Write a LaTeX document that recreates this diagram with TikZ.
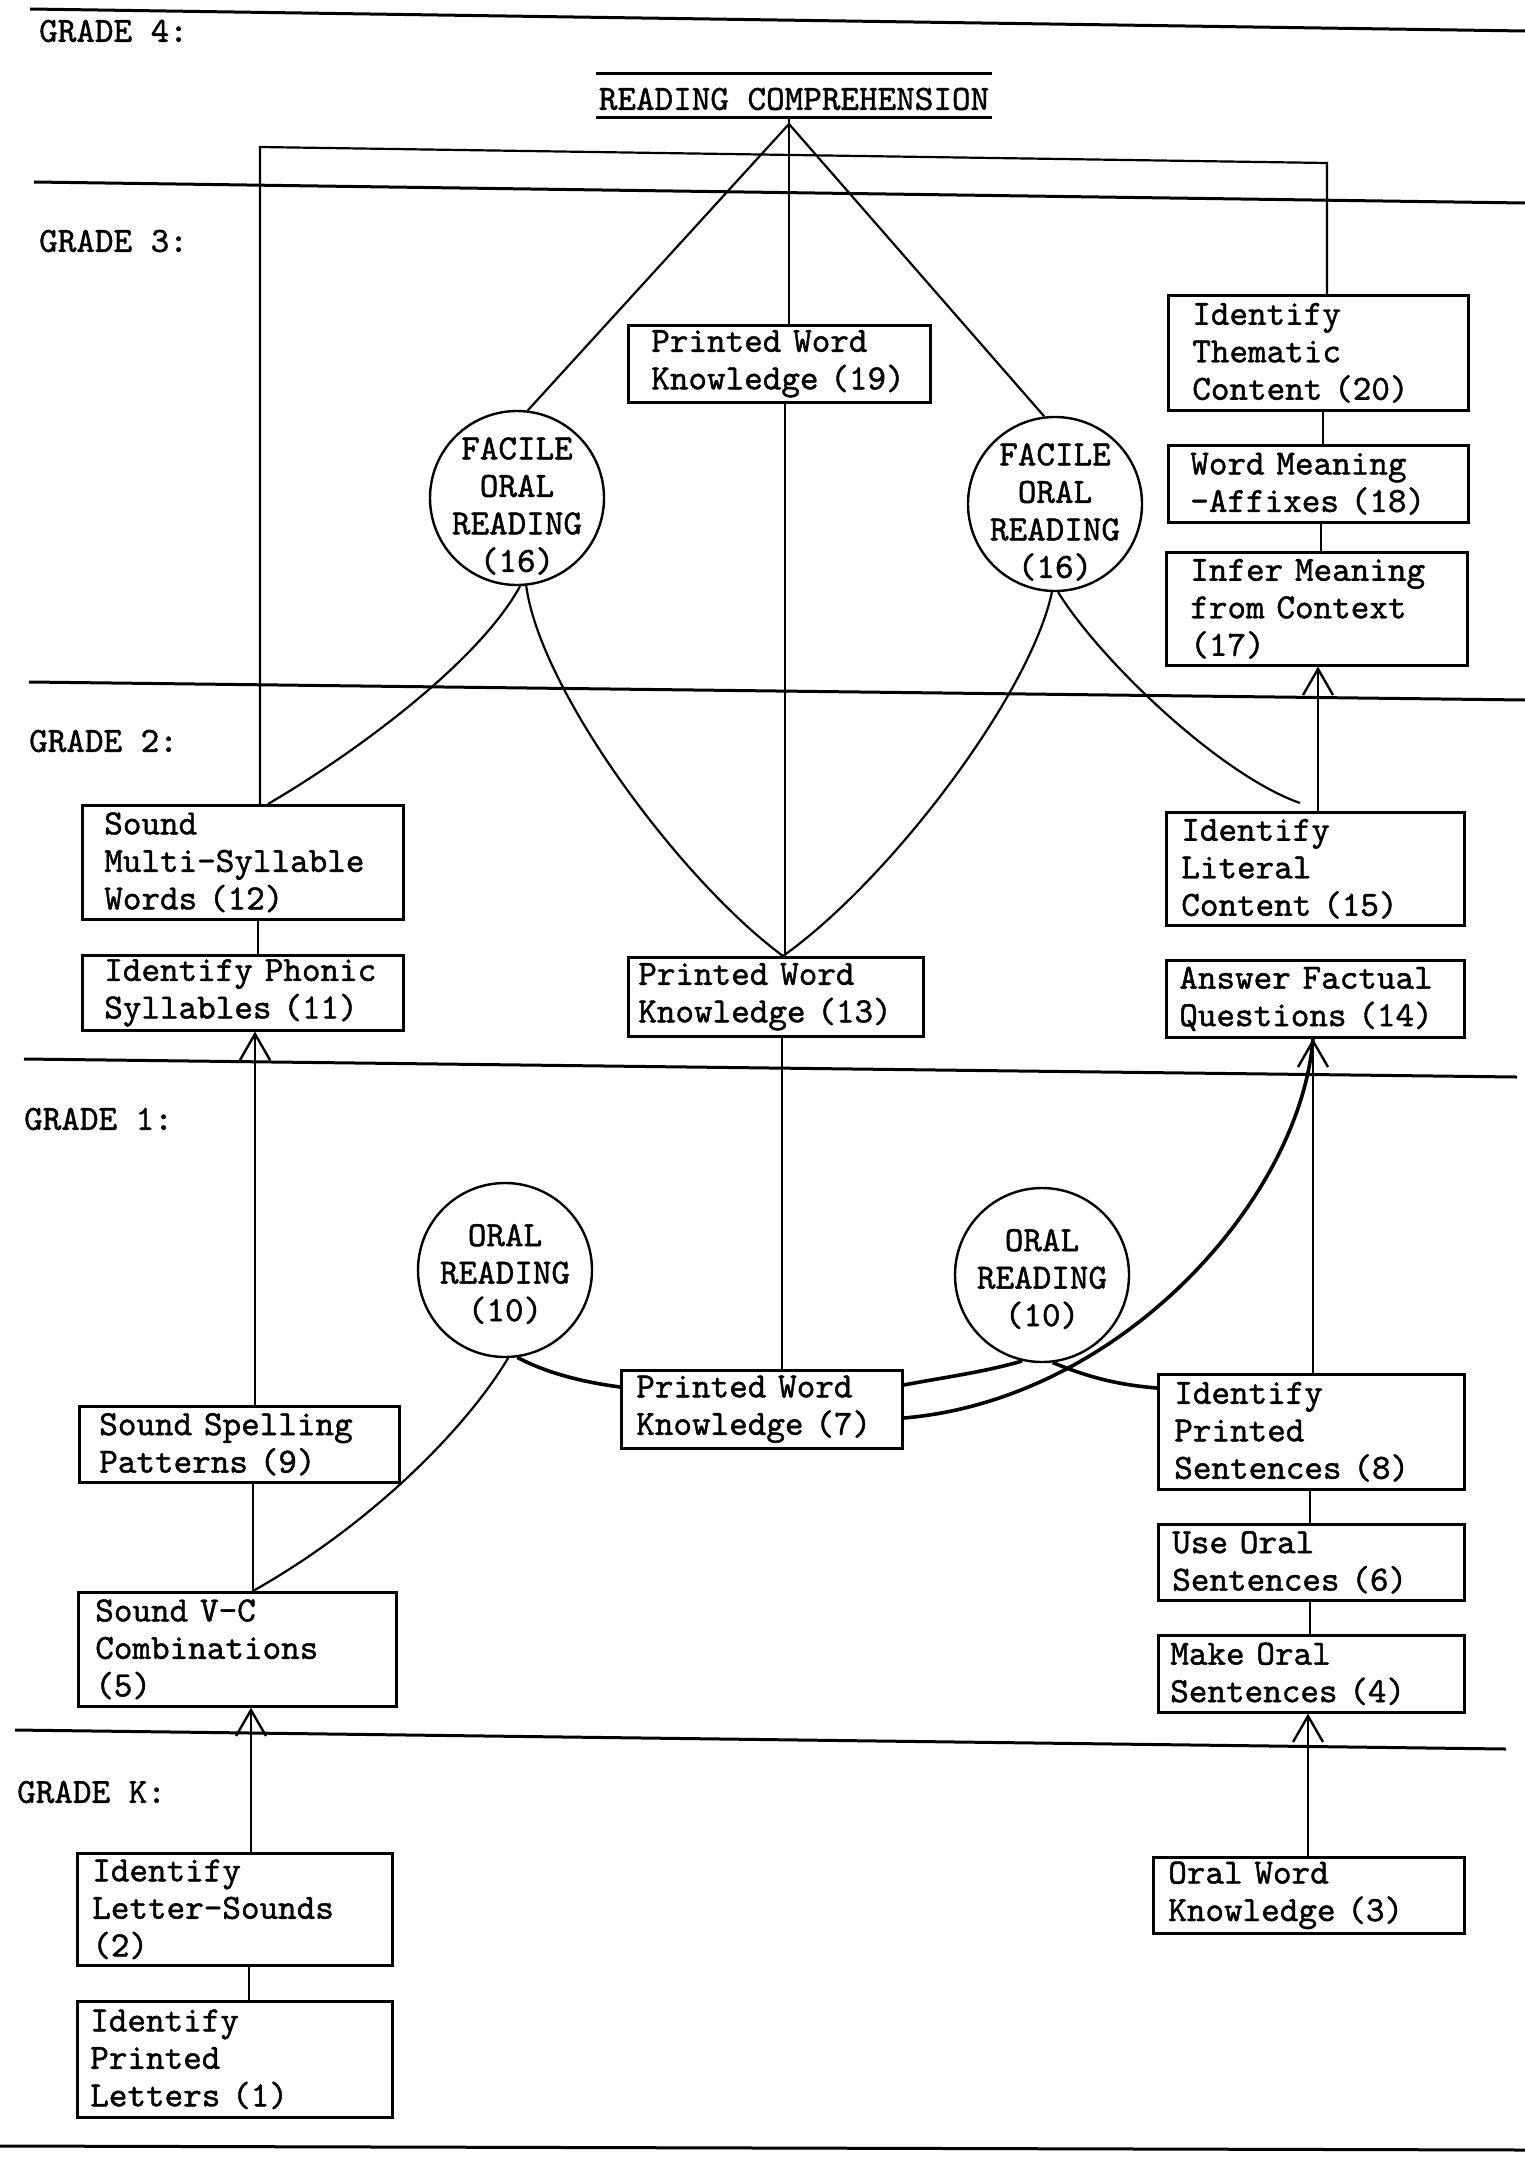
\documentclass[tikz,border=0pt]{standalone}
\usepackage{fontspec}
\newfontfamily\twfont[FakeBold=1.2]{lmmono10-regular.otf}
\usetikzlibrary{arrows.meta,calc}
\newcommand\bx[7]{%
  \pgfmathsetmacro\bxw{#4-#2-2*#6}%
  \pgfmathsetmacro\bxh{#5-#3}%
  \node[box, inner xsep=#6pt, text width=\bxw pt, minimum height=\bxh pt, anchor=north west] (#1) at (#2,#3) {#7};}
\begin{document}
\begin{tikzpicture}[x=1pt,y=-1pt,
  tw/.style={font={\twfont\fontsize{35.4pt}{37.5pt}\selectfont}},
  box/.style={tw, draw, line width=2.6pt, inner ysep=0pt, align=left},
  lbl/.style={tw, inner sep=0pt},
  circ/.style={draw, circle, line width=2.4pt, minimum size=174pt, inner sep=0pt},
  ctxt/.style={tw, inner sep=0pt, align=center},
  conn/.style={line width=2.2pt},
  thk/.style={line width=3.6pt},
  gline/.style={line width=3pt},
  arr/.style={-{Straight Barb[length=26pt,width=30pt,line width=2.4pt]}}]
\fill[white] (0,0) rectangle (1525,2157);
\useasboundingbox (0,0) rectangle (1525,2157);

% grade separator lines
\draw[gline] (30,9) -- (1525,31);
\draw[gline] (34,182) -- (1525,203);
\draw[gline] (29,682) -- (1525,700);
\draw[gline] (24,1059) -- (1517,1077);
\draw[gline] (15,1730) -- (1506,1749);
\draw[gline] (0,2146) -- (1525,2150);

% grade labels
\node[lbl, anchor=west] (g4) at (39,31) {GRADE 4:};
\node[lbl, anchor=west] (g3) at (39,241) {GRADE 3:};
\node[lbl, anchor=west] (g2) at (29,741) {GRADE 2:};
\node[lbl, anchor=west] (g1) at (24,1119) {GRADE 1:};
\node[lbl, anchor=west] (gk) at (17,1792) {GRADE K:};

% title
\node[lbl] (title) at (794,99) {READING COMPREHENSION};
\draw[conn] ($(title.north west)+(-3,-14)$) -- ($(title.north east)+(3,-14)$);
\draw[conn] ($(title.south west)+(-3,7)$) -- ($(title.south east)+(3,7)$);

% boxes
\bx{b19}{627}{324}{929}{401}{23}{Printed Word\\Knowledge (19)}
\bx{b20}{1167}{294}{1467}{409}{24}{Identify\\Thematic\\Content (20)}
\bx{b18}{1167}{444}{1467}{521}{22}{Word Meaning\\-Affixes (18)}
\bx{b17}{1165}{551}{1466}{664}{24}{Infer Meaning\\from Context\\(17)}
\bx{b12}{81}{804}{402}{918}{22}{Sound\\Multi-Syllable\\Words (12)}
\bx{b11}{81}{954}{402}{1029}{22}{Identify Phonic\\Syllables (11)}
\bx{b13}{627}{956}{922}{1035}{10}{Printed Word\\Knowledge (13)}
\bx{b15}{1165}{811}{1463}{924}{15}{Identify\\Literal\\Content (15)}
\bx{b14}{1165}{959}{1463}{1036}{13}{Answer Factual\\Questions (14)}
\bx{b9}{78}{1405}{398}{1481}{20}{Sound Spelling\\Patterns (9)}
\bx{b7}{620}{1369}{901}{1447}{15}{Printed Word\\Knowledge (7)}
\bx{b8}{1157}{1373}{1463}{1488}{16}{Identify\\Printed\\Sentences (8)}
\bx{b6}{1157}{1523}{1463}{1599}{14}{Use Oral\\Sentences (6)}
\bx{b4}{1157}{1634}{1463}{1711}{12}{Make Oral\\Sentences (4)}
\bx{b5}{77}{1591}{395}{1705}{17}{Sound V-C\\Combinations\\(5)}
\bx{b2}{76}{1852}{391}{1964}{15}{Identify\\Letter-Sounds\\(2)}
\bx{b1}{76}{2000}{391}{2116}{13}{Identify\\Printed\\Letters (1)}
\bx{b3}{1152}{1856}{1463}{1932}{15}{Oral Word\\Knowledge (3)}

% circles
\node[circ] (c16L) at (517,498) {};
\node[ctxt] (t16L) at ([yshift=-8pt]c16L.center) {FACILE\\ORAL\\READING\\(16)};
\node[circ] (c16R) at (1055,504) {};
\node[ctxt] (t16R) at ([yshift=-8pt]c16R.center) {FACILE\\ORAL\\READING\\(16)};
\node[circ] (c10L) at (505,1270) {};
\node[ctxt] (t10L) at ([yshift=-4pt]c10L.center) {ORAL\\READING\\(10)};
\node[circ] (c10R) at (1042,1275) {};
\node[ctxt] (t10R) at ([yshift=-4pt]c10R.center) {ORAL\\READING\\(10)};

% frame from the title
\coordinate (fl) at (260,147);
\coordinate (fr) at (1327,163);
\draw[conn] ($(b12.north west)+(179,0)$) -- (fl) -- (fr) -- ($(b20.north west)+(160,0)$);

% central vertical
\draw[conn] ($(title.south)+(-5,7)$) -- ($(b19.north west)+(162,0)$);
\draw[conn] ($(b19.south west)+(158,0)$) -- ($(b13.north west)+(158,0)$);
\draw[conn] ($(b13.south west)+(155,0)$) -- ($(b7.north west)+(162,0)$);

% diagonals to facile oral reading
\coordinate (apex) at (789,124);
\draw[conn] (apex) -- (c16L.83);
\draw[conn] (apex) -- (c16R.97);

% grade 3 -> grade 2 curves
\coordinate (b13n) at ($(b13.north west)+(156,0)$);
\draw[conn] (c16L.272) .. controls (480,660) and (360,750) .. ($(b12.north west)+(187,0)$);
\draw[conn] (c16L.276) .. controls (540,690) and (680,880) .. (b13n);
\draw[conn] (c16R.268) .. controls (1030,695) and (890,880) .. (b13n);
\draw[conn] (c16R.272) .. controls (1100,660) and (1220,775) .. ($(b15.north west)+(135,-8)$);

% right column grade 3
\draw[conn] ($(b20.south west)+(156,0)$) -- ($(b18.north west)+(156,0)$);
\draw[conn] ($(b18.south west)+(154,0)$) -- ($(b17.north west)+(156,0)$);
\draw[conn,arr] ($(b15.north west)+(153,0)$) -- ($(b17.south west)+(153,0)$);

% left column
\draw[conn] ($(b12.south west)+(177,0)$) -- ($(b11.north west)+(177,0)$);
\draw[conn,arr] ($(b9.north west)+(177,0)$) -- ($(b11.south west)+(174,0)$);
\draw[conn] ($(b9.south west)+(175,0)$) -- ($(b5.north west)+(176,0)$);
\draw[conn,arr] ($(b2.north west)+(175,0)$) -- ($(b5.south west)+(174,0)$);
\draw[conn] ($(b2.south west)+(173,0)$) -- ($(b1.north west)+(173,0)$);

% right column grades 1 and K
\draw[conn,arr] ($(b8.north west)+(156,0)$) -- ($(b14.south west)+(148,0)$);
\draw[conn] ($(b8.south west)+(153,0)$) -- ($(b6.north west)+(153,0)$);
\draw[conn] ($(b6.south west)+(153,0)$) -- ($(b4.north west)+(153,0)$);
\draw[conn,arr] ($(b3.north west)+(156,0)$) -- ($(b4.south west)+(151,0)$);

% grade 1 curves
\draw[thk] (c10L.278) .. controls (550,1375) and (590,1383) .. ($(b7.north west)+(0,18)$);
\draw[conn] (c10L.272) .. controls (465,1430) and (370,1525) .. ($(b5.north west)+(176,0)$);
\draw[thk] (c10R.257) .. controls (985,1372) and (940,1378) .. ($(b7.north east)+(0,16)$);
\draw[thk] (c10R.277) .. controls (1090,1378) and (1120,1385) .. ($(b8.north west)+(0,15)$);
\draw[thk] ($(b7.north east)+(0,49)$) .. controls (1120,1400) and (1300,1200) .. ($(b14.south west)+(148,0)$);
\end{tikzpicture}
\end{document}
